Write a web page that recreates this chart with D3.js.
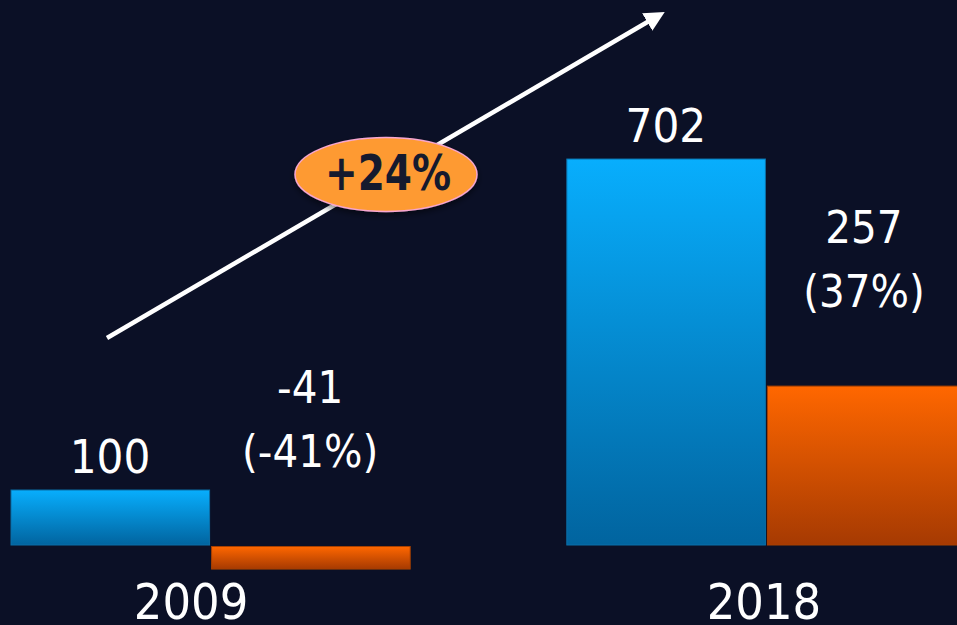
<!DOCTYPE html>
<html lang="en">
<head>
<meta charset="utf-8">
<title>2009 vs 2018</title>
<script src="https://d3js.org/d3.v7.min.js"></script>
<style>
  html, body { margin: 0; padding: 0; background: #0b1026; }
  svg { display: block; }
  .lbl { font-family: "DejaVu Sans Condensed", "DejaVu Sans", sans-serif; font-stretch: condensed; fill: #ffffff; }
</style>
</head>
<body>
<script>
// data
var years = ["2009", "2018"];
var series = ["total", "change"];
var totals = [100, 702];
// 2018 change bar is drawn taller in the original than its 257 label; height
var changes = [-41, 289];
var topLabels = [["100"], ["702"]];
var changeLabels = [["-41", "(-41%)"], ["257", "(37%)"]];
var growthLabel = "+24%";

var width = 957, height = 625;

var svg = d3.select("body").append("svg")
    .attr("width", width)
    .attr("height", height);

svg.append("rect").attr("width", width).attr("height", height).attr("fill", "#0b1026");

var defs = svg.append("defs");
var gBlue = defs.append("linearGradient").attr("id", "gBlue").attr("x1", 0).attr("y1", 0).attr("x2", 0).attr("y2", 1);
gBlue.append("stop").attr("offset", "0%").attr("stop-color", "#08aefd");
gBlue.append("stop").attr("offset", "100%").attr("stop-color", "#01649f");
var gOrange = defs.append("linearGradient").attr("id", "gOrange").attr("x1", 0).attr("y1", 0).attr("x2", 0).attr("y2", 1);
gOrange.append("stop").attr("offset", "0%").attr("stop-color", "#ff6700");
gOrange.append("stop").attr("offset", "100%").attr("stop-color", "#a63a02");
var shadow = defs.append("filter").attr("id", "shadow").attr("x", "-20%").attr("y", "-30%").attr("width", "140%").attr("height", "160%");
shadow.append("feDropShadow").attr("dx", 0).attr("dy", 3).attr("stdDeviation", 3).attr("flood-color", "#000").attr("flood-opacity", 0.5);
defs.append("marker").attr("id", "head")
    .attr("viewBox", "0 0 10 10").attr("refX", 5).attr("refY", 5)
    .attr("markerWidth", 4.5).attr("markerHeight", 4.5)
    .attr("orient", "auto")
  .append("path").attr("d", "M0,0 L10,5 L0,10 z").attr("fill", "#ffffff");

var x0 = d3.scaleBand().domain(years).range([11, 967]).paddingInner(0.28).paddingOuter(0);
var x1 = d3.scaleBand().domain(series).range([0, x0.bandwidth()]).padding(0);
var y = d3.scaleLinear().domain([0, 702]).range([545, 159]);

var rows = years.map(function(yr, i) {
  return { year: yr, i: i, bars: [
    { key: "total", value: totals[i] },
    { key: "change", value: changes[i] }
  ]};
});

var groups = svg.selectAll("g.year")
  .data(rows)
  .enter().append("g")
    .attr("class", "year")
    .attr("transform", function(d) { return "translate(" + x0(d.year) + ",0)"; });

groups.selectAll("rect")
  .data(function(d) { return d.bars; })
  .enter().append("rect")
    .attr("x", function(d) { return x1(d.key) + (d.key === "change" ? 0.5 : 0); })
    .attr("y", function(d) { return d.value >= 0 ? y(d.value) : y(0) + 1.5; })
    .attr("width", function(d) { return x1.bandwidth() - 1.5; })
    .attr("height", function(d) { return Math.abs(y(d.value) - y(0)); })
    .attr("fill", function(d) { return d.key === "total" ? "url(#gBlue)" : "url(#gOrange)"; })
    .attr("stroke", function(d) { return d.key === "total" ? "#0b6fa8" : "#a84000"; })
    .attr("stroke-width", 1);

// value labels over the total bars
groups.append("text")
    .attr("class", "lbl")
    .attr("text-anchor", "middle")
    .attr("font-size", 47)
    .attr("x", x1("total") + x1.bandwidth() / 2 - 1)
    .attr("y", function(d) { return y(totals[d.i]) - 17; })
    .text(function(d) { return topLabels[d.i][0]; });

// change labels, two lines
var cl = groups.append("text")
    .attr("class", "lbl")
    .attr("text-anchor", "middle")
    .attr("font-size", 45)
    .attr("x", function(d) { return x1("change") + x1.bandwidth() / 2 - (d.i === 1 ? 4 : 2); })
    .attr("y", function(d) { return d.i === 0 ? 403 : 243; });
cl.selectAll("tspan")
  .data(function(d) { return changeLabels[d.i].map(function(t, k) { return { t: t, k: k, x: x1("change") + x1.bandwidth() / 2 - (d.i === 1 ? 3 : 1) }; }); })
  .enter().append("tspan")
    .attr("x", function(d) { return d.x; })
    .attr("dy", function(d) { return d.k === 0 ? 0 : 64; })
    .text(function(d) { return d.t; });

// year labels
groups.append("text")
    .attr("class", "lbl")
    .attr("text-anchor", "middle")
    .attr("font-size", 50)
    .attr("x", function(d) { return d.i === 0 ? x0.bandwidth() / 2 - 20 : x0.bandwidth() / 2 - 3; })
    .attr("y", 619)
    .text(function(d) { return d.year; });

// growth arrow
svg.append("line")
    .attr("x1", 107).attr("y1", 338)
    .attr("x2", 656).attr("y2", 17)
    .attr("stroke", "#ffffff")
    .attr("stroke-width", 4.5)
    .attr("marker-end", "url(#head)");

svg.append("ellipse")
    .attr("cx", 386).attr("cy", 174.5)
    .attr("rx", 91).attr("ry", 37)
    .attr("fill", "#fe9a33")
    .attr("stroke", "#f7a6cf")
    .attr("stroke-width", 1.5)
    .attr("filter", "url(#shadow)");

svg.append("text")
    .attr("x", 388).attr("y", 190)
    .attr("text-anchor", "middle")
    .attr("font-family", "'DejaVu Sans Condensed', 'DejaVu Sans', sans-serif")
    .attr("font-weight", "bold")
    .attr("font-size", 50)
    .attr("textLength", 126)
    .attr("lengthAdjust", "spacingAndGlyphs")
    .attr("fill", "#151a2e")
    .text(growthLabel);
</script>
</body>
</html>
